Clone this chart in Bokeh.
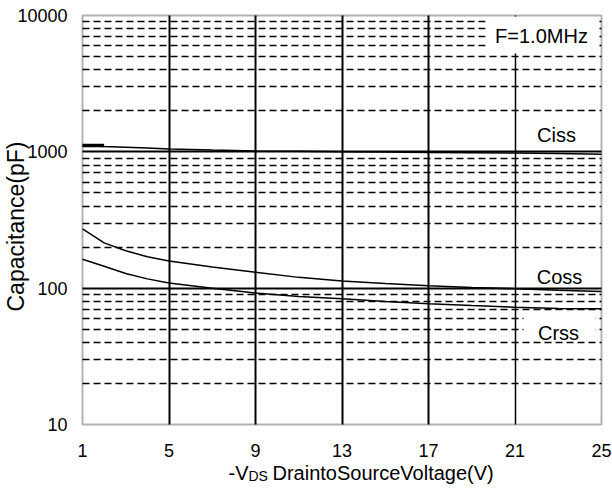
import math

from bokeh.plotting import figure
from bokeh.models import FixedTicker, Grid, Label, BoxAnnotation
from bokeh.core.properties import value
from bokeh.embed import file_html
from bokeh.resources import INLINE

# -VDS drain-to-source voltage (V)
vds = [1, 2, 3, 4, 5, 7, 9, 11, 13, 15, 17, 19, 21, 23, 25]
# Capacitances (pF), F = 1.0 MHz
ciss = [1115, 1095, 1080, 1065, 1048, 1030, 1015, 1008, 1003, 998, 990, 985, 980, 972, 962]
coss = [272, 215, 188, 170, 158, 143, 131, 120, 113, 108, 104, 101, 99, 96.5, 94.5]
crss = [163, 145, 128, 117, 109, 100, 92, 87, 83.5, 80, 77, 74.5, 72.5, 71, 70.5]

x_ticks = [1, 5, 9, 13, 17, 21, 25]
y_ticks = [10, 100, 1000, 10000]
y_minor = [m * d for d in (10, 100, 1000) for m in range(2, 10)]

FONT = "Liberation Sans"
X0, X1 = 1, 25
Y0, Y1 = 10, 10000

# placement of the plotting box on the page (pixels)
FL, FR, FT, FB = 82, 601, 15, 424
W, H = 612, 489


def xd(px):
    """page x pixel -> voltage"""
    return X0 + (px - FL) / (FR - FL) * (X1 - X0)


def yd(py):
    """page y pixel -> capacitance (log scale)"""
    span = math.log10(Y1) - math.log10(Y0)
    return 10 ** (math.log10(Y1) - (py - FT) / (FB - FT) * span)


# the drawing area spans the whole page so that the titles and tick labels
# can be placed around the plotting box
p = figure(width=W, height=H, x_range=(xd(0), xd(W)), y_range=(yd(H), yd(0)),
           y_axis_type="log", output_backend="svg", toolbar_location=None,
           min_border=0)
p.background_fill_color = "white"
p.border_fill_color = "white"
p.outline_line_color = None
p.xaxis.visible = False
p.yaxis.visible = False

# grid, limited to the plotting box
p.xgrid.ticker = FixedTicker(ticks=[5, 9, 13, 17])
p.xgrid.bounds = (X0, X1)
p.xgrid.cross_bounds = (Y0, Y1)
p.xgrid.grid_line_color = "black"
p.xgrid.grid_line_width = 2
p.ygrid.ticker = FixedTicker(ticks=[100, 1000], minor_ticks=y_minor)
p.ygrid.bounds = (Y0, Y1)
p.ygrid.cross_bounds = (X0, X1)
p.ygrid.grid_line_color = "black"
p.ygrid.grid_line_width = 2
p.ygrid.minor_grid_line_color = "black"
p.ygrid.minor_grid_line_width = 1.7
p.ygrid.minor_grid_line_dash = "7 4"
p.add_layout(Grid(dimension=0, ticker=FixedTicker(ticks=[21]),
                  bounds=(X0, X1), cross_bounds=(Y0, Y1),
                  grid_line_color="black", grid_line_width=1.5))

# curves
p.line(vds, ciss, line_color="black", line_width=1.5)
p.line(vds[:2], [ciss[0], ciss[0]], line_color="black", line_width=3.5)
p.line(vds, coss, line_color="black", line_width=1.5)
p.line(vds, crss, line_color="black", line_width=1.5)

# white panels behind the in-plot texts
p.add_layout(BoxAnnotation(left=xd(485), right=xd(598), top=yd(16), bottom=yd(53),
                           fill_color="white", fill_alpha=1, line_color=None))
p.add_layout(BoxAnnotation(left=xd(523), right=xd(595), top=yd(313), bottom=yd(340),
                           fill_color="white", fill_alpha=1, line_color=None))

# plotting box border
p.add_layout(BoxAnnotation(left=X0, right=X1, bottom=Y0, top=Y1,
                           fill_alpha=0, line_color="black", line_width=2))

# tick labels
p.text(x=x_ticks, y=[yd(FB + 26)] * len(x_ticks), text=[str(t) for t in x_ticks],
       text_font=value(FONT), text_font_size=value("18px"), text_color="black",
       text_align="center", text_baseline="middle")
p.text(x=[xd(FL - 15)] * len(y_ticks), y=y_ticks, text=[str(t) for t in y_ticks],
       text_font=value(FONT), text_font_size=value("18px"), text_color="black",
       text_align="right", text_baseline="middle")


def text(px, py, s, size, align="center", angle=0):
    p.add_layout(Label(x=xd(px), y=yd(py), text=s, text_font=FONT,
                       text_font_size=size, text_color="black",
                       text_align=align, text_baseline="middle", angle=angle))


text(541, 35, "F=1.0MHz", "20px")
text(556, 134, "Ciss", "20px")
text(559, 276, "Coss", "20px")
text(558, 332, "Crss", "20px")

# axis titles
text(15, 226, "Capacitance(pF)", "23px", angle=math.pi / 2)
text(228, 472, "-V", "20px", align="left")
text(248, 475, "DS", "14px", align="left")
text(272, 472, "DraintoSourceVoltage(V)", "20px", align="left")

open("out.html", "w").write(file_html(p, INLINE))
